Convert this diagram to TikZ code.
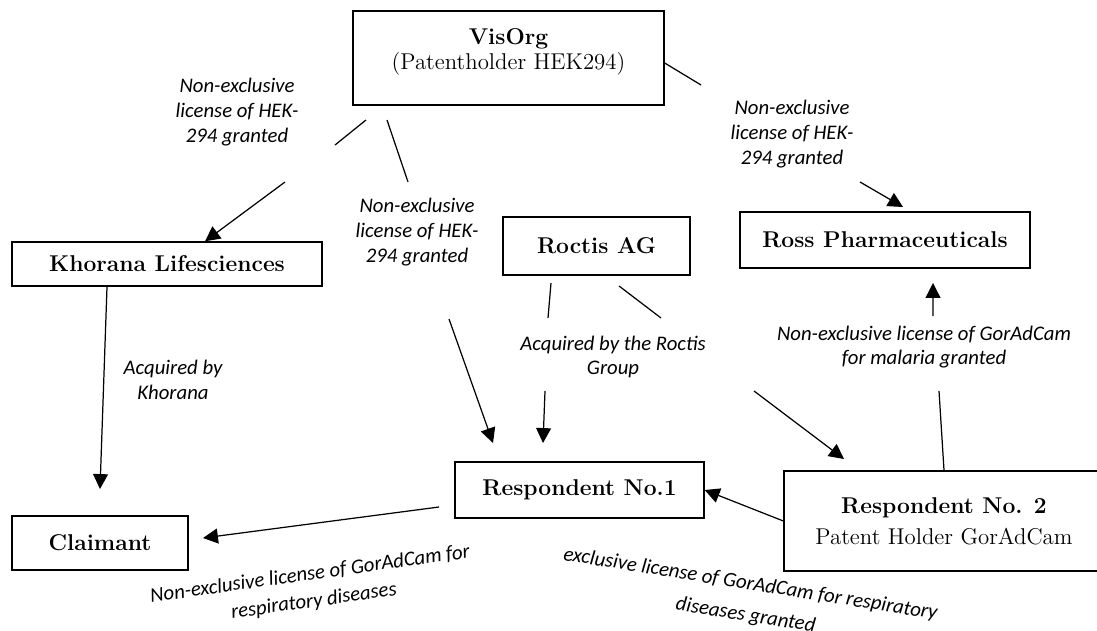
\documentclass[tikz,border=0pt]{standalone}
\usepackage{fontspec}
\usetikzlibrary{arrows.meta}
\newfontfamily\carlito{Carlito}
\newcommand{\entityfont}{\fontsize{13}{14.5}\selectfont}
\newcommand{\dealfont}{\carlito\itshape\fontsize{11.8}{14}\selectfont}

\begin{document}
\begin{tikzpicture}[x=0.02cm, y=-0.02cm,
    entity/.style={draw, line width=0.8pt, font=\entityfont, align=center, inner sep=2pt},
    deal/.style={font=\dealfont, align=center, inner sep=1pt},
    link/.style={line width=0.7pt},
    linkto/.style={link, -{Triangle[length=8.5pt, width=8.5pt]}}]
  \clip (0,0) rectangle (1097,631);

  % Parties
  \node[entity, minimum width=6.22cm, minimum height=1.88cm] (visorg) at (508.5,58) {\textbf{VisOrg}\\(Patentholder HEK294)\\[-4pt]\mbox{}};
  \node[entity, minimum width=6.2cm, minimum height=0.88cm] (khorana) at (167,264) {\textbf{Khorana Lifesciences}};
  \node[entity, minimum width=3.74cm, minimum height=1.16cm] (roctis) at (596.5,246) {\textbf{Roctis AG}};
  \node[entity, minimum width=5.8cm, minimum height=1.12cm] (ross) at (885,240) {\textbf{Ross Pharmaceuticals}};
  \node[entity, minimum width=4.98cm, minimum height=1.12cm] (resp1) at (579.5,490) {\textbf{Respondent No.1}};
  \node[entity, minimum width=6.4cm, minimum height=2cm] (resp2) at (944,521) {\textbf{Respondent No. 2}\\[3pt]Patent Holder GorAdCam};
  \node[entity, minimum width=3.52cm, minimum height=1.08cm] (claimant) at (100,543) {\textbf{Claimant}};

  % Labels
  \node[deal] (hekkhorana) at (237,112) {Non-exclusive\\license of HEK-\\294 granted};
  \node[deal] (hekresp) at (417,232) {Non-exclusive\\license of HEK-\\294 granted};
  \node[deal] (hekross) at (792,134) {Non-exclusive\\license of HEK-\\294 granted};
  \node[deal] (acqroctis) at (613,357) {Acquired by the Roctis\\Group};
  \node[deal] (malaria) at (924,347) {Non-exclusive license of GorAdCam\\for malaria granted};
  \node[deal] (acqkhorana) at (173,380) {Acquired by\\Khorana};
  \node[deal, rotate=8] (respclaim) at (312,588) {Non-exclusive license of GorAdCam for\\[1.5pt]respiratory diseases};
  \node[deal, rotate=-9] (respexcl) at (748,600) {exclusive license of GorAdCam for respiratory\\[4pt]diseases granted};

  % Where the links break off
  \coordinate (k0) at (366,120); \coordinate (k1) at (335,145); \coordinate (k2) at (285,182);
  \coordinate (r0) at (387,120); \coordinate (r1) at (408,182); \coordinate (r2) at (449,319); \coordinate (r3) at (493,443);
  \coordinate (p1) at (701,85); \coordinate (p2) at (860,182); \coordinate (p3) at (903,207);
  \coordinate (g0) at (551,283); \coordinate (g1) at (548,318); \coordinate (g2) at (545,391); \coordinate (g3) at (543,443);
  \coordinate (h0) at (619,286); \coordinate (h1) at (661,318); \coordinate (h2) at (754,391); \coordinate (h3) at (844,459);
  \coordinate (m1) at (939,391); \coordinate (m2) at (933,316); \coordinate (m3) at (933,283);
  \coordinate (c1) at (100,489);
  \coordinate (q0) at (439,507); \coordinate (q1) at (203,538);

  % Links
  \draw[linkto] (k0) -- (k1) (k2) -- ([xshift=0.76cm]khorana.north);
  \draw[linkto] (r0) -- (r1) (r2) -- (r3);
  \draw[linkto] ([yshift=-0.1cm]visorg.east) -- (p1) (p2) -- (p3);
  \draw[linkto] (g0) -- (g1) (g2) -- (g3);
  \draw[linkto] (h0) -- (h1) (h2) -- (h3);
  \draw[linkto] (resp2.north) -- (m1) (m2) -- (m3);
  \draw[linkto] ([xshift=-1.2cm]khorana.south) -- (c1);
  \draw[linkto] (q0) -- (q1);
  \draw[linkto] (resp2.west) -- (resp1.east);
\end{tikzpicture}
\end{document}
